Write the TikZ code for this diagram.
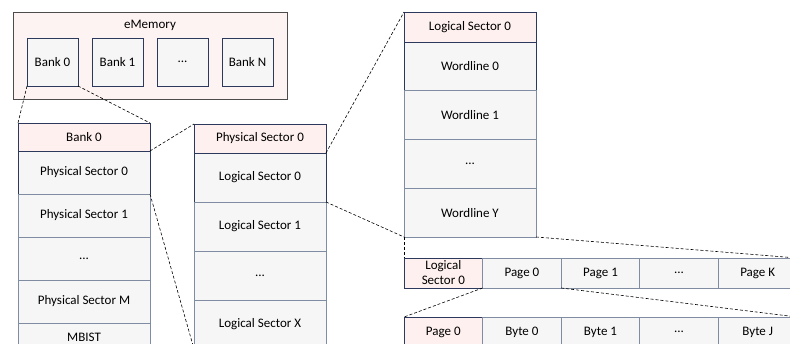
\documentclass[tikz,border=0pt]{standalone}
\usepackage{fontspec}
\setmainfont{Carlito}
\usetikzlibrary{positioning}
\usepackage{xcolor}
\definecolor{navyline}{RGB}{44,56,92}
\definecolor{greyline}{RGB}{128,140,162}
\definecolor{headpink}{RGB}{253,240,238}
\definecolor{cellgrey}{RGB}{246,246,246}
\definecolor{memfill}{RGB}{253,243,242}
\tikzstyle{cell} = [rectangle, draw=greyline, fill=cellgrey, line width=0.8pt, outer sep=0pt, inner sep=0pt, text centered, font=\fontsize{13}{15}\selectfont]
\tikzstyle{firstcell} = [cell, draw=navyline]
\tikzstyle{head} = [cell, draw=navyline, fill=headpink]
\tikzstyle{bank} = [firstcell, minimum width=51pt, minimum height=48pt]
\tikzstyle{leftcell} = [cell, minimum width=132pt, minimum height=43pt]
\tikzstyle{colcell} = [cell, minimum width=132pt, minimum height=49pt]
\tikzstyle{rowcell} = [cell, minimum width=78.6pt, minimum height=30pt]
\tikzstyle{zoomline} = [densely dashed, line width=0.6pt, black]

\begin{document}
\begin{tikzpicture}[x=1pt, y=-1pt]
    \clip (0,0) rectangle (790,344);
    \fill[white] (0,0) rectangle (790,344);

    % eMemory with its banks
    \node (emem) [rectangle, draw=black!70, fill=memfill, line width=0.8pt, minimum width=274pt, minimum height=87pt] at (150,55.5) {};
    \node (ememlabel) [font=\fontsize{13}{15}\selectfont] at (150,25) {eMemory};
    \node (bank0) [bank] at (52.5,62) {Bank 0};
    \node (bank1) [bank, right=14pt of bank0] {Bank 1};
    \node (bankdots) [bank, right=14pt of bank1] {...};
    \node (bankN) [bank, right=14pt of bankdots] {Bank N};

    % Bank 0 column
    \node (bankhead) [head, minimum width=132pt, minimum height=28pt] at (84,137) {Bank 0};
    \node (ps0) [leftcell, firstcell, below=0pt of bankhead] {Physical Sector 0};
    \node (ps1) [leftcell, below=0pt of ps0] {Physical Sector 1};
    \node (psdots) [leftcell, below=0pt of ps1] {...};
    \node (psM) [leftcell, below=0pt of psdots] {Physical Sector M};
    \node (mbist) [leftcell, minimum height=28pt, below=0pt of psM] {MBIST};

    % Physical sector column
    \node (phshead) [head, minimum width=132pt, minimum height=29pt] at (260,138.5) {Physical Sector 0};
    \node (ls0) [colcell, firstcell, below=0pt of phshead] {Logical Sector 0};
    \node (ls1) [colcell, below=0pt of ls0] {Logical Sector 1};
    \node (lsdots) [colcell, below=0pt of ls1] {...};
    \node (lsX) [colcell, below=0pt of lsdots] {Logical Sector X};

    % Logical sector column
    \node (lshead) [head, minimum width=132pt, minimum height=30pt] at (470,27) {Logical Sector 0};
    \node (wl0) [colcell, firstcell, minimum height=48.75pt, below=0pt of lshead] {Wordline 0};
    \node (wl1) [colcell, minimum height=48.75pt, below=0pt of wl0] {Wordline 1};
    \node (wldots) [colcell, minimum height=48.75pt, below=0pt of wl1] {...};
    \node (wlY) [colcell, minimum height=48.75pt, below=0pt of wldots] {Wordline Y};

    % Page row
    \node (pagehead) [head, rowcell, draw=navyline, fill=headpink, align=center] at (443.3,273) {Logical\\Sector 0};
    \node (pg0) [rowcell, right=0pt of pagehead] {Page 0};
    \node (pg1) [rowcell, right=0pt of pg0] {Page 1};
    \node (pgdots) [rowcell, right=0pt of pg1] {...};
    \node (pgK) [rowcell, right=0pt of pgdots] {Page K};

    % Byte row
    \node (bytehead) [head, rowcell, draw=navyline, fill=headpink] at (443.3,332) {Page 0};
    \node (by0) [rowcell, right=0pt of bytehead] {Byte 0};
    \node (by1) [rowcell, right=0pt of by0] {Byte 1};
    \node (bydots) [rowcell, right=0pt of by1] {...};
    \node (byJ) [rowcell, right=0pt of bydots] {Byte J};

    % Zoom lines
    \draw [zoomline] (bank0.south west) -- (bankhead.north west);
    \draw [zoomline] (bank0.south east) -- (bankhead.north east);
    \draw [zoomline] (ps0.north east) -- (phshead.north west);
    \draw [zoomline] (ps0.south east) -- (lsX.south west);
    \draw [zoomline] (ls0.north east) -- (lshead.north west);
    \draw [zoomline] (ls0.south east) -- (wlY.south west);
    \draw [zoomline] (wlY.south west) -- (pagehead.north west);
    \draw [zoomline] (wlY.south east) -- (pgK.north east);
    \draw [zoomline] (pg0.south west) -- (bytehead.north west);
    \draw [zoomline] (pg0.south east) -- (byJ.north east);
\end{tikzpicture}
\end{document}
